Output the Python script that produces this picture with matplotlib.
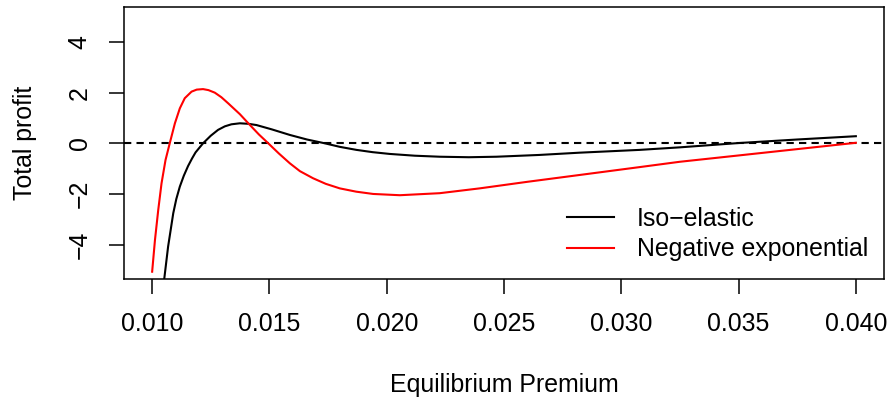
import matplotlib
matplotlib.use("Agg")
import matplotlib.pyplot as plt

plt.rcParams['font.family'] = ['Liberation Sans', 'DejaVu Sans']

# Iso-elastic demand curve
iso_x = [0.0104, 0.01051, 0.01068, 0.0109, 0.01103, 0.01118, 0.01135, 0.01153,
         0.0117, 0.01185, 0.01217, 0.0125, 0.01281, 0.0131, 0.01338, 0.01374,
         0.0141, 0.01445, 0.0151, 0.01587, 0.0166, 0.01736, 0.0180, 0.01871,
         0.0194, 0.02013, 0.0212, 0.02226, 0.0235, 0.02468, 0.0265, 0.02823,
         0.03078, 0.03249, 0.0350, 0.0375, 0.0400]
iso_y = [-6.25, -5.4, -4.08, -2.76, -2.2, -1.71, -1.28, -0.90,
         -0.60, -0.36, 0.0, 0.3, 0.53, 0.67, 0.75, 0.79,
         0.77, 0.72, 0.55, 0.33, 0.15, 0.0, -0.14, -0.26,
         -0.35, -0.42, -0.49, -0.53, -0.55, -0.53, -0.46, -0.37,
         -0.26, -0.16, 0.01, 0.15, 0.28]

# Negative exponential demand curve
neg_x = [0.0100, 0.01012, 0.01026, 0.0104, 0.01057, 0.01075, 0.01097, 0.01118,
         0.01139, 0.01168, 0.0119, 0.01217, 0.0124, 0.01267, 0.01295, 0.01324,
         0.01374, 0.01417, 0.01455, 0.01495, 0.0154, 0.01587, 0.0163, 0.01686,
         0.0174, 0.0180, 0.0187, 0.01942, 0.02056, 0.02226, 0.02396, 0.0260,
         0.02823, 0.03078, 0.03249, 0.0350, 0.0375, 0.0400]
neg_y = [-5.07, -3.82, -2.63, -1.58, -0.66, 0.0, 0.79, 1.38,
         1.78, 2.04, 2.12, 2.14, 2.10, 2.00, 1.82, 1.58,
         1.15, 0.72, 0.35, 0.0, -0.40, -0.79, -1.10, -1.38,
         -1.60, -1.78, -1.91, -2.00, -2.05, -1.97, -1.78, -1.52,
         -1.25, -0.94, -0.73, -0.48, -0.23, 0.02]

x_ticks = [0.010, 0.015, 0.020, 0.025, 0.030, 0.035, 0.040]
x_labels = ["0.010", "0.015", "0.020", "0.025", "0.030", "0.035", "0.040"]
y_ticks = [-4, -2, 0, 2, 4]
y_labels = ["\u22124", "\u22122", "0", "2", "4"]

W, H = 888, 399
fig = plt.figure(figsize=(W / 100, H / 100), dpi=100)
ax = fig.add_axes([124 / W, 1 - 279.3 / H, (884 - 124) / W, (279.3 - 7.3) / H])

fs = 17.9
lw = 1.5

ax.axhline(0, color='black', lw=lw, ls=(0, (3.5, 2.5)))
ax.plot(iso_x, iso_y, color='black', lw=lw, label="Iso\u2212elastic")
ax.plot(neg_x, neg_y, color='#ff0000', lw=lw, label="Negative exponential")

ax.set_xlim(0.0088, 0.0412)
ax.set_ylim(-5.37, 5.37)

ax.set_xticks(x_ticks)
ax.set_xticklabels(x_labels)
ax.set_yticks(y_ticks)
ax.set_yticklabels(y_labels, rotation=90, va='center')
ax.tick_params(direction='out', length=10.8, width=1.1, labelsize=fs, pad=12.5)

for s in ax.spines.values():
    s.set_linewidth(1.1)

ax.set_xlabel("Equilibrium Premium", fontsize=fs)
ax.set_ylabel("Total profit", fontsize=fs)
ax.xaxis.set_label_coords(0.5, (279.3 - 385) / 272)
ax.xaxis.label.set_va('center')
ax.yaxis.set_label_coords((25 - 124) / 760, 0.5)
ax.yaxis.label.set_va('center')

ax.legend(loc='center left', bbox_to_anchor=(567 / W, 1 - 234 / H),
          bbox_transform=fig.transFigure, frameon=False, fontsize=fs,
          handlelength=1.9, handletextpad=0.92, labelspacing=0.27,
          borderpad=0, borderaxespad=0)

fig.savefig("out.png", dpi=100)
